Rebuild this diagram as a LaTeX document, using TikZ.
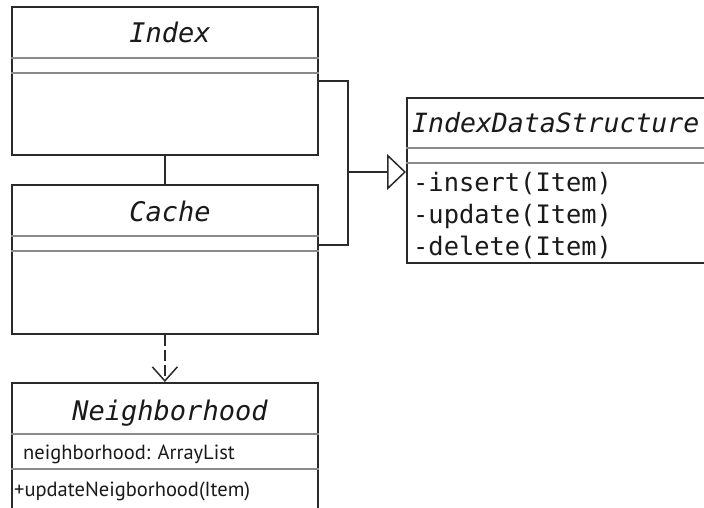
\documentclass[tikz,border=0pt]{standalone}
\usepackage{fontspec}
\setmonofont{DejaVu Sans Mono}
\setsansfont{PT Sans}
\usetikzlibrary{arrows.meta}
\definecolor{edge}{HTML}{2A2A2A}
\definecolor{rule}{HTML}{8A8A8A}
\definecolor{ink}{HTML}{1A1A1A}
\tikzset{
  classbox/.style={draw=edge, line width=1.7pt, fill=white, rectangle, inner sep=0pt, anchor=north west},
  sepline/.style={draw=rule, line width=1.4pt},
  link/.style={draw=edge, line width=1.6pt},
  title/.style={font=\fontsize{27}{30}\selectfont\ttfamily\itshape, text=ink, inner sep=0pt, anchor=base},
  member/.style={font=\fontsize{25.4}{30}\selectfont\ttfamily, text=ink, inner sep=0pt, anchor=base west},
  attr/.style={font=\fontsize{20.5}{24}\selectfont\sffamily, text=ink, inner sep=0pt, anchor=base west},
}
\begin{document}
\begin{tikzpicture}[x=1pt, y=-1pt]
\useasboundingbox (0,0) rectangle (704,508);
\clip (0,0) rectangle (704,508);
\fill[white] (0,0) rectangle (704,508);

% class boxes
\node[classbox, minimum width=306pt, minimum height=148pt] (index) at (11,6) {};
\node[classbox, minimum width=306pt, minimum height=149pt] (cache) at (11,184) {};
\node[classbox, minimum width=320pt, minimum height=165pt] (ids) at (406,97) {};
\node[classbox, minimum width=306pt, minimum height=140pt] (nbh) at (11,382) {};

% compartment separators
\foreach \b/\d in {index/52, index/67, cache/52, cache/67, ids/51, ids/66, nbh/52, nbh/87}
  \draw[sepline] ([yshift=-\d pt]\b.north west) -- ([yshift=-\d pt]\b.north east);

% class names
\node[title] (indexname) at (170,43) {Index};
\node[title] (cachename) at (170,221) {Cache};
\node[title, anchor=base west, font=\fontsize{26.5}{30}\selectfont\ttfamily\itshape] (idsname) at (412,133) {IndexDataStructure};
\node[title] (nbhname) at (170,420) {Neighborhood};

% members
\node[member] (m1) at (413,191) {-insert(Item)};
\node[member] (m2) at (413,223) {-update(Item)};
\node[member] (m3) at (413,255) {-delete(Item)};
\node[attr] (a1) at (23,459) {neighborhood: ArrayList};
\node[attr] (a2) at (14,496) {+updateNeigborhood(Item)};

% connectors
\coordinate (joint) at (348,172);
\coordinate (ia) at (317,81);
\coordinate (ca) at (317,245);
\draw[link] (index.south) -- (cache.north);
\draw[link] (ia) -| (joint);
\draw[link] (ca) -| (joint);
\draw[link, -{Triangle[open, length=19pt, width=36pt, line width=1.5pt]}] (joint) -- (ids.west |- joint);
\draw[link, dash pattern=on 11pt off 4pt, -{Straight Barb[length=14pt, width=25pt, line width=1.5pt]}] (cache.south) -- (nbh.north);
\end{tikzpicture}
\end{document}
